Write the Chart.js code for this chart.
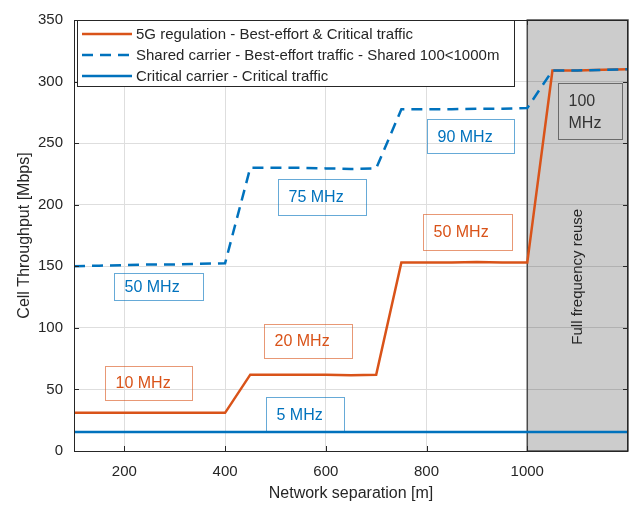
<!DOCTYPE html>
<html>
<head>
<meta charset="utf-8">
<script src="https://cdn.jsdelivr.net/npm/chart.js@4.4.1/dist/chart.umd.min.js"></script>
<style>
  html, body { margin: 0; padding: 0; background: #fff; }
  canvas { display: block; }
</style>
</head>
<body>
<canvas id="chart" width="630" height="505"></canvas>
<script>
// distances sampled every 50 m
const distances = [100, 150, 200, 250, 300, 350, 400, 450, 500, 550, 600, 650,
                   700, 750, 800, 850, 900, 950, 1000, 1050, 1100, 1150, 1200];

// 5G regulation - Best-effort & Critical traffic
const regulation = [31, 31, 31, 31, 31, 31, 31, 62, 62, 62, 62, 61.5,
                    62, 153, 153, 153, 153.5, 153, 153, 309, 309, 309.5, 310];

// Shared carrier - Best-effort traffic
const shared = [150, 150.5, 151, 151.5, 151.5, 152, 152.5, 230, 230, 230, 229.5, 229,
                229.5, 277.5, 277.5, 277.5, 278, 278, 278.5, 309, 309, 309.5, 310];

// Critical carrier - Critical traffic
const critical = [15.5, 15.5, 15.5, 15.5, 15.5, 15.5, 15.5, 15.5, 15.5, 15.5, 15.5, 15.5,
                  15.5, 15.5, 15.5, 15.5, 15.5, 15.5, 15.5, 15.5, 15.5, 15.5, 15.5];

const seriesNames = [
    '5G regulation - Best-effort & Critical traffic',
    'Shared carrier - Best-effort traffic - Shared 100<1000m',
    'Critical carrier - Critical traffic'
];

const xTicks = [200, 400, 600, 800, 1000];
const yTicks = [0, 50, 100, 150, 200, 250, 300, 350];

const bandLabels = ['50 MHz', '75 MHz', '90 MHz', '10 MHz', '20 MHz', '5 MHz', '50 MHz', '100\nMHz'];

// shaded full-reuse region
const reuseRange = [1000, 1200];

const ORANGE = '#D95319';
const BLUE = '#0072BD';
const AXIS = '#262626';
const FONT = '"Liberation Sans", Arial, Helvetica, sans-serif';

// label box placement (data coords of centre, size in px)
const labelBoxes = [
    { x: 268, y: 133.5, w: 89, h: 27, kind: 'blue' },
    { x: 593, y: 206.5, w: 88, h: 36, kind: 'blue' },
    { x: 887, y: 255.6, w: 87, h: 34, kind: 'blue' },
    { x: 248, y: 55.6, w: 87, h: 34, kind: 'orange' },
    { x: 565, y: 89.5, w: 88, h: 34, kind: 'orange' },
    { x: 559, y: 29.4, w: 78, h: 35, kind: 'blue' },
    { x: 881, y: 178.2, w: 89, h: 36, kind: 'orange' },
    { x: 1124.5, y: 275.8, w: 64, h: 56, kind: 'grey' }
];

const boxStyles = {
    blue: { text: BLUE, border: 'rgba(0,114,189,0.6)' },
    orange: { text: ORANGE, border: 'rgba(217,83,25,0.6)' },
    grey: { text: '#333333', border: '#6a6a6a' }
};

function points(values) {
    return distances.map((d, i) => ({ x: d, y: values[i] }));
}

const reusePlugin = {
    id: 'reuse',
    beforeDatasetsDraw(chart) {
        const { ctx, chartArea, scales } = chart;
        const x0 = scales.x.getPixelForValue(reuseRange[0]);
        const x1 = scales.x.getPixelForValue(reuseRange[1]);
        ctx.save();
        ctx.fillStyle = 'rgba(0,0,0,0.2)';
        ctx.fillRect(x0, chartArea.top, x1 - x0, chartArea.bottom - chartArea.top);
        ctx.strokeStyle = '#4a4a4a';
        ctx.lineWidth = 1.5;
        ctx.strokeRect(x0, chartArea.top, x1 - x0, chartArea.bottom - chartArea.top);
        ctx.restore();
    },
    afterDatasetsDraw(chart) {
        const { ctx, scales } = chart;
        ctx.save();

        // band annotation boxes
        ctx.font = '16px ' + FONT;
        ctx.textBaseline = 'middle';
        ctx.textAlign = 'left';
        labelBoxes.forEach((b, i) => {
            const st = boxStyles[b.kind];
            const cx = scales.x.getPixelForValue(b.x);
            const cy = scales.y.getPixelForValue(b.y);
            const left = Math.round(cx - b.w / 2) + 0.5;
            const top = Math.round(cy - b.h / 2) + 0.5;
            ctx.strokeStyle = st.border;
            ctx.lineWidth = 1;
            ctx.strokeRect(left, top, b.w, b.h);
            ctx.fillStyle = st.text;
            const lines = bandLabels[i].split('\n');
            const lh = 22;
            lines.forEach((ln, k) => {
                ctx.fillText(ln, left + 10, cy + (k - (lines.length - 1) / 2) * lh + 1);
            });
        });

        // rotated region caption
        const rx = (scales.x.getPixelForValue(reuseRange[0]) + scales.x.getPixelForValue(reuseRange[1])) / 2;
        ctx.translate(rx, scales.y.getPixelForValue(141.5));
        ctx.rotate(-Math.PI / 2);
        ctx.textAlign = 'center';
        ctx.fillStyle = AXIS;
        ctx.font = '15px ' + FONT;
        ctx.fillText('Full frequency reuse', 0, 0);
        ctx.restore();
    },
    afterDraw(chart) {
        const { ctx, chartArea, scales } = chart;
        const { left, right, top, bottom } = chartArea;
        ctx.save();

        // axes box and inward ticks
        ctx.strokeStyle = AXIS;
        ctx.lineWidth = 1;
        ctx.strokeRect(Math.round(left) + 0.5, Math.round(top) + 0.5,
                       Math.round(right - left) - 1, Math.round(bottom - top));
        ctx.beginPath();
        xTicks.forEach(v => {
            const px = Math.round(scales.x.getPixelForValue(v)) + 0.5;
            ctx.moveTo(px, bottom); ctx.lineTo(px, bottom - 5);
            ctx.moveTo(px, top); ctx.lineTo(px, top + 5);
        });
        yTicks.forEach(v => {
            const py = Math.round(scales.y.getPixelForValue(v)) + 0.5;
            ctx.moveTo(left, py); ctx.lineTo(left + 5, py);
            ctx.moveTo(right, py); ctx.lineTo(right - 5, py);
        });
        ctx.stroke();

        // legend
        const lx = 77.5, ly = 20.5, lw = 437, lh = 66;
        ctx.fillStyle = '#ffffff';
        ctx.fillRect(lx, ly, lw, lh);
        ctx.strokeStyle = AXIS;
        ctx.strokeRect(lx, ly, lw, lh);
        ctx.font = '15px ' + FONT;
        ctx.textBaseline = 'middle';
        ctx.textAlign = 'left';
        chart.data.datasets.forEach((ds, i) => {
            const y = 34 + i * 21;
            ctx.beginPath();
            ctx.strokeStyle = ds.borderColor;
            ctx.lineWidth = ds.borderWidth;
            ctx.setLineDash(ds.borderDash || []);
            ctx.moveTo(82, y); ctx.lineTo(132, y);
            ctx.stroke();
            ctx.setLineDash([]);
            ctx.fillStyle = AXIS;
            ctx.fillText(ds.label, 136, y + 1);
        });
        ctx.restore();
    }
};

new Chart(document.getElementById('chart'), {
    type: 'line',
    data: {
        datasets: [
            { label: seriesNames[0], data: points(regulation), borderColor: ORANGE,
              borderWidth: 2.5, pointRadius: 0, tension: 0, order: 1 },
            { label: seriesNames[1], data: points(shared), borderColor: BLUE,
              borderWidth: 2.5, borderDash: [11, 7], pointRadius: 0, tension: 0, order: 0 },
            { label: seriesNames[2], data: points(critical), borderColor: BLUE,
              borderWidth: 2.5, pointRadius: 0, tension: 0, order: 2 }
        ]
    },
    options: {
        responsive: false,
        animation: false,
        devicePixelRatio: 1,
        layout: { padding: { top: 17, right: 2, left: 0, bottom: 0 } },
        plugins: {
            legend: { display: false },
            tooltip: { enabled: false }
        },
        scales: {
            x: {
                type: 'linear',
                min: 100,
                max: 1200,
                afterBuildTicks(scale) {
                    scale.ticks = xTicks.map(v => ({ value: v }));
                },
                afterFit(scale) { scale.height = 54; },
                grid: { color: '#dedede', drawTicks: false },
                border: { display: false },
                ticks: { color: AXIS, font: { size: 15, family: FONT }, padding: 12,
                         maxRotation: 0, autoSkip: false, callback: v => String(v) },
                title: { display: true, text: 'Network separation [m]', color: AXIS,
                         font: { size: 16, family: FONT }, padding: { top: 0, bottom: 2 } }
            },
            y: {
                min: 0,
                max: 350,
                afterBuildTicks(scale) {
                    scale.ticks = yTicks.map(v => ({ value: v }));
                },
                afterFit(scale) { scale.width = 74; },
                grid: { color: '#dedede', drawTicks: false },
                border: { display: false },
                ticks: { color: AXIS, font: { size: 15, family: FONT }, padding: 11,
                         callback: v => String(v) },
                title: { display: true, text: 'Cell Throughput [Mbps]', color: AXIS,
                         font: { size: 16, family: FONT }, padding: { top: 15, bottom: 0 } }
            }
        }
    },
    plugins: [reusePlugin]
});
</script>
</body>
</html>
